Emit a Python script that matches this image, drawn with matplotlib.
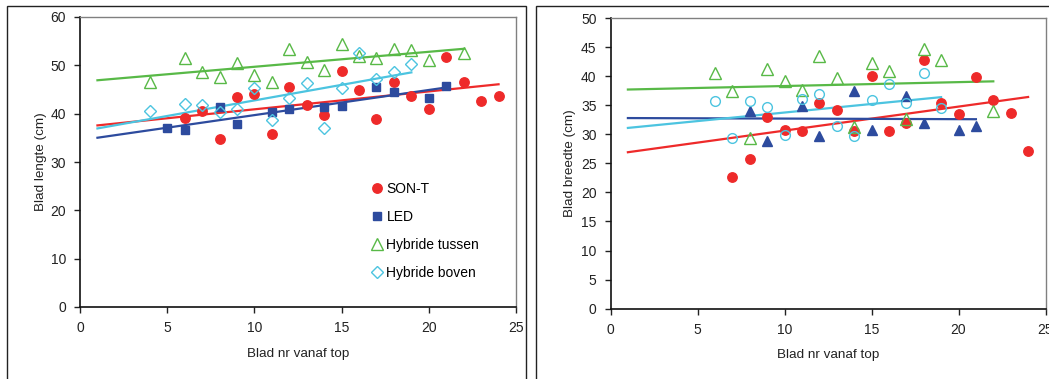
import matplotlib
matplotlib.use('Agg')
import matplotlib.pyplot as plt
from matplotlib.patches import Rectangle
import numpy as np

plt.rcParams['font.family'] = ['Liberation Sans', 'DejaVu Sans']

# %% data
series = ['SON-T', 'LED', 'Hybride tussen', 'Hybride boven']

# blad lengte (cm)
len_sont_x = [6, 7, 8, 9, 10, 11, 12, 13, 14, 15, 16, 17, 18, 19, 20, 21, 22, 23, 24]
len_sont_y = [39.2, 40.6, 34.8, 43.5, 44.1, 35.7, 45.5, 41.8, 39.7, 48.8, 45.0, 39.0, 46.6, 43.7, 41.0, 51.7, 46.6, 42.6, 43.7]
len_led_x = [5, 6, 8, 9, 11, 12, 14, 15, 17, 18, 20, 21]
len_led_y = [37.1, 36.7, 41.3, 37.9, 40.4, 41.0, 41.3, 41.6, 45.5, 44.5, 43.3, 45.7]
len_tus_x = [4, 6, 7, 8, 9, 10, 11, 12, 13, 14, 15, 16, 17, 18, 19, 20, 22]
len_tus_y = [46.6, 51.5, 48.7, 47.5, 50.4, 48.0, 46.6, 53.3, 50.6, 49.0, 54.4, 51.9, 51.5, 53.3, 53.1, 51.2, 52.5]
len_bov_x = [4, 6, 7, 8, 9, 10, 11, 12, 13, 14, 15, 16, 17, 18, 19]
len_bov_y = [40.5, 42.0, 41.7, 40.3, 40.9, 45.4, 38.7, 43.3, 46.3, 37.0, 45.3, 52.5, 47.2, 48.6, 50.3]
# trendlines (slope, intercept)
len_trend = [(0.37, 37.2), (0.52, 34.5), (0.31, 46.6), (0.644, 36.3)]

# blad breedte (cm)
br_sont_x = [7, 8, 9, 10, 11, 12, 13, 14, 15, 16, 17, 18, 19, 20, 21, 22, 23, 24]
br_sont_y = [22.6, 25.7, 32.9, 30.7, 30.5, 35.3, 34.1, 30.5, 40.1, 30.5, 32.0, 42.7, 35.4, 33.5, 39.9, 35.9, 33.7, 27.2]
br_led_x = [8, 9, 11, 12, 14, 15, 17, 18, 20, 21]
br_led_y = [34.0, 28.9, 34.8, 29.7, 37.4, 30.8, 36.5, 31.9, 30.8, 31.4]
br_tus_x = [6, 7, 8, 9, 10, 11, 12, 13, 14, 15, 16, 17, 18, 19, 22]
br_tus_y = [40.6, 37.5, 29.3, 41.2, 39.1, 37.6, 43.4, 39.7, 31.2, 42.2, 40.8, 32.7, 44.6, 42.8, 34.0]
br_bov_x = [6, 7, 8, 9, 10, 11, 12, 13, 14, 15, 16, 17, 18, 19]
br_bov_y = [35.8, 29.4, 35.8, 34.7, 29.9, 36.0, 36.9, 31.5, 29.7, 35.9, 38.6, 35.3, 40.6, 34.6]
br_trend = [(0.413, 26.5), (-0.01, 32.8), (0.067, 37.63), (0.294, 30.8)]

colors = ['#EE2A2A', '#2D4B9E', '#58B947', '#4CC4E0']

fig = plt.figure(figsize=(10.49, 3.79), dpi=100)

# outer frames of the two panels
fig.patches.append(Rectangle((7 / 1049, -0.01), 519 / 1049, 1 - 6 / 379 + 0.01, transform=fig.transFigure,
                             fill=False, edgecolor='#222222', linewidth=1.0))
fig.patches.append(Rectangle((536 / 1049, -0.01), 0.6, 1 - 6 / 379 + 0.01, transform=fig.transFigure,
                             fill=False, edgecolor='#222222', linewidth=1.0))

ax1 = fig.add_axes([80 / 1049, 1 - 307 / 379, 436 / 1049, 290 / 379])
ax2 = fig.add_axes([610.5 / 1049, 1 - 308.7 / 379, 435 / 1049, 290.7 / 379])


def draw(ax, data, trends, circle_open):
    for i, (x, y) in enumerate(data):
        c = colors[i]
        x = np.array(x)
        if i == 0:
            ax.plot(x, y, 'o', ms=6.8, color=c, mec=c, label=series[i], zorder=3)
        elif i == 1:
            m = '^' if circle_open else 's'
            ax.plot(x, y, m, ms=5.5 if m == 's' else 6.5, color=c, mec=c, label=series[i], zorder=3)
        elif i == 2:
            ax.plot(x, y, '^', ms=8, mfc='none', mec=c, mew=1.0, label=series[i], zorder=3)
        else:
            m = 'o' if circle_open else 'D'
            ax.plot(x, y, m, ms=7 if m == 'o' else 6, mfc='none', mec=c, mew=1.0, label=series[i], zorder=3)
        slope, icpt = trends[i]
        xs = np.array([1, x.max()])
        ax.plot(xs, slope * xs + icpt, '-', color=c, lw=1.6, zorder=2)
    ax.set_xlim(0, 25)
    ax.set_xticks([0, 5, 10, 15, 20, 25])
    ax.tick_params(direction='out', length=4, width=1, labelsize=10, colors='#222222', pad=6)
    for s in ['left', 'bottom']:
        ax.spines[s].set_color('#111111')
        ax.spines[s].set_linewidth(1.2)
    for s in ['top', 'right']:
        ax.spines[s].set_color('#808080')
        ax.spines[s].set_linewidth(1.0)
    ax.set_xlabel('Blad nr vanaf top', fontsize=9.7, color='#222222')


draw(ax1, [(len_sont_x, len_sont_y), (len_led_x, len_led_y), (len_tus_x, len_tus_y), (len_bov_x, len_bov_y)],
     len_trend, False)
ax1.set_ylim(0, 60)
ax1.set_yticks(range(0, 61, 10))
ax1.set_ylabel('Blad lengte (cm)', fontsize=9.7, color='#222222')
ax1.yaxis.set_label_coords(-0.076, 0.5)
ax1.xaxis.set_label_coords(0.5, -0.14)
ax1.legend(loc='upper left', bbox_to_anchor=(0.655, 0.455), frameon=False, fontsize=10,
           handlelength=0.7, handletextpad=0.3, labelspacing=1.0, borderpad=0)

draw(ax2, [(br_sont_x, br_sont_y), (br_led_x, br_led_y), (br_tus_x, br_tus_y), (br_bov_x, br_bov_y)],
     br_trend, True)
ax2.set_ylim(0, 50)
ax2.set_yticks(range(0, 51, 5))
ax2.set_ylabel('Blad breedte (cm)', fontsize=9.7, color='#222222')
ax2.yaxis.set_label_coords(-0.08, 0.5)
ax2.xaxis.set_label_coords(0.5, -0.14)

plt.savefig('out.png', dpi=100)
